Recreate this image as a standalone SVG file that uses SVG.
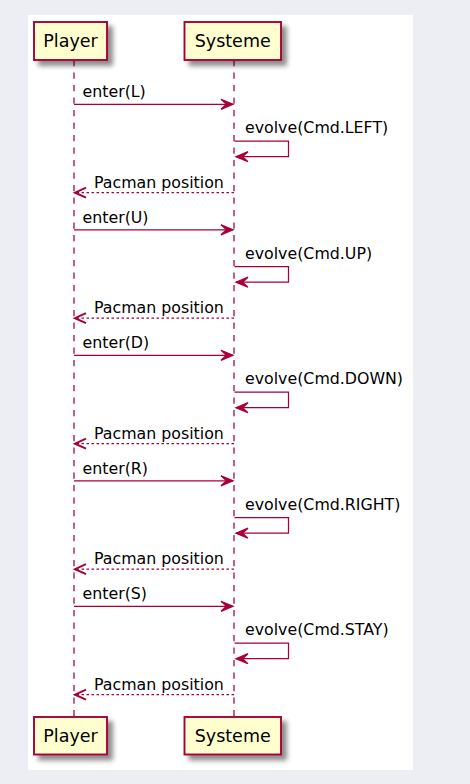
<svg xmlns="http://www.w3.org/2000/svg" width="470" height="784" viewBox="0 0 470 784">
<style>
.box{fill:#FEFECE;stroke:#A80036;stroke-width:1.9}
.pt{font-family:"DejaVu Sans",sans-serif;font-size:17.5px;fill:#000;text-anchor:middle}
.mt{font-family:"DejaVu Sans",sans-serif;font-size:15.8px;fill:#000}
.life{stroke:#A80036;stroke-width:1.25;stroke-dasharray:6.25,6.25;fill:none}
.msg{stroke:#A80036;stroke-width:1.25;fill:none}
.ret{stroke:#A80036;stroke-width:1.25;fill:none;stroke-dasharray:2.5,2.5}
.rh{stroke:#A80036;stroke-width:2;fill:none}
.ah{fill:#A80036;stroke:#A80036;stroke-width:1.25}
</style>
<defs>
<filter id="sh" x="-20%" y="-20%" width="150%" height="160%">
<feGaussianBlur in="SourceAlpha" stdDeviation="2.5"/>
<feOffset dx="5" dy="5" result="b"/>
<feComponentTransfer><feFuncA type="linear" slope="0.45"/></feComponentTransfer>
<feMerge><feMergeNode/><feMergeNode in="SourceGraphic"/></feMerge>
</filter>
<g id="cyc">
<line class="msg" x1="74" y1="104.3" x2="233" y2="104.3"/>
<polygon class="ah" points="221,99.3 233,104.3 221,109.3 226.5,104.3"/>
<polyline class="msg" points="234.5,141 288.5,141 288.5,156.7 236,156.7"/>
<polygon class="ah" points="248,151.7 236,156.7 248,161.7 242.5,156.7"/>
<line class="ret" x1="234" y1="192.7" x2="75" y2="192.7"/>
<polyline class="rh" points="86,187.7 75,192.7 86,197.7"/>
</g>
</defs>
<rect x="0" y="0" width="470" height="784" fill="#EDEEF3"/>
<rect x="28" y="15" width="385" height="755" fill="#FFFFFF"/>
<g id="lifelines">
<line class="life" x1="74" y1="60" x2="74" y2="717"/>
<line class="life" x1="234" y1="60" x2="234" y2="717"/>
</g>
<g id="player-top"><rect class="box" filter="url(#sh)" x="34" y="22" width="73" height="38"/><text class="pt" x="70.5" y="47">Player</text></g>
<g id="systeme-top"><rect class="box" filter="url(#sh)" x="184.5" y="22" width="96.5" height="38"/><text class="pt" x="232.7" y="47">Systeme</text></g>
<g id="player-bottom"><rect class="box" filter="url(#sh)" x="34" y="717" width="73" height="37.5"/><text class="pt" x="70.5" y="742">Player</text></g>
<g id="systeme-bottom"><rect class="box" filter="url(#sh)" x="184.5" y="717" width="96.5" height="37.5"/><text class="pt" x="232.7" y="742">Systeme</text></g>
<g id="connectors">
<use href="#cyc"/>
<use href="#cyc" y="125.5"/>
<use href="#cyc" y="251"/>
<use href="#cyc" y="376.5"/>
<use href="#cyc" y="502"/>
</g>
<g id="labels">
<text class="mt" x="82.5" y="97">enter(L)</text>
<text class="mt" x="245" y="133">evolve(Cmd.LEFT)</text>
<text class="mt" x="94" y="187.5">Pacman position</text>
<text class="mt" x="82.5" y="222.5">enter(U)</text>
<text class="mt" x="245" y="258.5">evolve(Cmd.UP)</text>
<text class="mt" x="94" y="313">Pacman position</text>
<text class="mt" x="82.5" y="348">enter(D)</text>
<text class="mt" x="245" y="384">evolve(Cmd.DOWN)</text>
<text class="mt" x="94" y="438.5">Pacman position</text>
<text class="mt" x="82.5" y="473.5">enter(R)</text>
<text class="mt" x="245" y="509.5">evolve(Cmd.RIGHT)</text>
<text class="mt" x="94" y="564">Pacman position</text>
<text class="mt" x="82.5" y="599">enter(S)</text>
<text class="mt" x="245" y="635">evolve(Cmd.STAY)</text>
<text class="mt" x="94" y="689.5">Pacman position</text>
</g>
</svg>
